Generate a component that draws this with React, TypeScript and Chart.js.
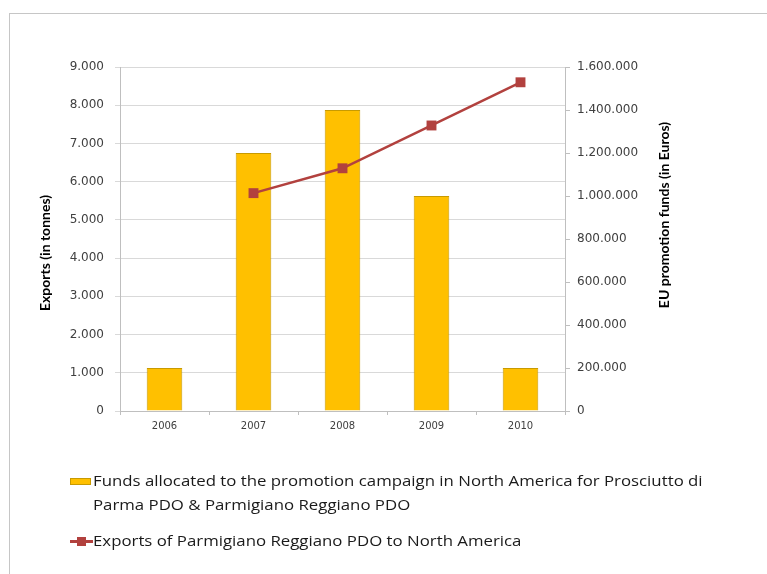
import React, { useEffect, useRef } from 'react';
import { Chart, registerables } from 'chart.js';

Chart.register(...registerables);

const years = ['2006', '2007', '2008', '2009', '2010'];
const fundsEuro = [200000, 1200000, 1400000, 1000000, 200000];
const exportsTonnes = [null, 5700, 6350, 7470, 8600];

const leftMax = 9000;
const leftStep = 1000;
const rightMax = 1600000;
const rightStep = 200000;

const leftTitle = 'Exports (in tonnes)';
const rightTitle = 'EU promotion funds (in Euros)';
const fundsLabel1 = 'Funds allocated to the promotion campaign in North America for Prosciutto di';
const fundsLabel2 = 'Parma PDO & Parmigiano Reggiano PDO';
const exportsLabel = 'Exports of Parmigiano Reggiano PDO to North America';

const BAR = '#FFC000';
const BAR_BORDER = '#C89A00';
const LINE = '#B2413E';
const AXIS = '#bfbfbf';
const GRID = '#d9d9d9';
const TICK = '#404040';

function fmt(v: number | string) {
  return String(v).replace(/\B(?=(\d{3})+(?!\d))/g, '.');
}

export default function App() {
  const ref = useRef<HTMLCanvasElement>(null);

  useEffect(() => {
    const titlePlugin = {
      id: 'axisTitles',
      afterDraw(chart: any) {
        const { ctx, chartArea } = chart;
        const mid = (chartArea.top + chartArea.bottom) / 2;
        ctx.save();
        ctx.fillStyle = '#000';
        ctx.font = 'bold 14px Lato';
        ctx.textAlign = 'center';
        ctx.textBaseline = 'middle';
        ctx.translate(chartArea.left - 75, mid + 14);
        ctx.rotate(-Math.PI / 2);
        ctx.fillText(leftTitle, 0, 0);
        ctx.restore();
        ctx.save();
        ctx.fillStyle = '#000';
        ctx.font = 'bold 14px Lato';
        ctx.textAlign = 'center';
        ctx.textBaseline = 'middle';
        ctx.translate(chartArea.right + 99, mid - 24);
        ctx.rotate(-Math.PI / 2);
        ctx.fillText(rightTitle, 0, 0);
        ctx.restore();
      },
    };

    const chart = new Chart(ref.current as HTMLCanvasElement, {
      type: 'bar',
      data: {
        labels: years,
        datasets: [
          {
            type: 'line',
            label: exportsLabel,
            data: exportsTonnes as any,
            yAxisID: 'y',
            borderColor: LINE,
            backgroundColor: LINE,
            borderWidth: 2.5,
            pointStyle: 'rect',
            pointRadius: 7,
            pointBackgroundColor: LINE,
            pointBorderColor: LINE,
            pointBorderWidth: 0,
            order: 0,
          } as any,
          {
            type: 'bar',
            label: fundsLabel1 + ' ' + fundsLabel2,
            data: fundsEuro,
            yAxisID: 'y1',
            backgroundColor: BAR,
            borderColor: BAR_BORDER,
            borderWidth: 1,
            barPercentage: 0.5,
            categoryPercentage: 0.8,
            order: 1,
          } as any,
        ],
      },
      options: {
        responsive: false,
        animation: false,
        layout: { padding: { top: 67, right: 102, left: 0, bottom: 0 } },
        plugins: { legend: { display: false }, tooltip: { enabled: false } },
        scales: {
          x: {
            grid: { drawOnChartArea: false, tickLength: 4, color: AXIS },
            border: { color: AXIS },
            ticks: { font: { family: 'DejaVu Sans', size: 10 }, color: TICK, padding: 5, maxRotation: 0 },
            afterFit(s: any) { s.height = 163; },
          },
          y: {
            position: 'left',
            min: 0,
            max: leftMax,
            ticks: { stepSize: leftStep, callback: (v: any) => fmt(v), font: { family: 'DejaVu Sans', size: 12 }, color: TICK, padding: 11 },
            grid: { color: GRID, tickLength: 5 },
            border: { color: AXIS },
            afterFit(s: any) { s.width = 120; },
          },
          y1: {
            position: 'right',
            min: 0,
            max: rightMax,
            ticks: { stepSize: rightStep, callback: (v: any) => fmt(v), font: { family: 'DejaVu Sans', size: 12 }, color: TICK, padding: 7 },
            grid: { drawOnChartArea: false, tickLength: 5, color: AXIS },
            border: { color: AXIS },
            afterFit(s: any) { s.width = 100; },
          },
        },
      } as any,
      plugins: [titlePlugin],
    });
    return () => chart.destroy();
  }, []);

  const textStyle: React.CSSProperties = {
    position: 'absolute',
    left: 93,
    fontFamily: '"Open Sans", sans-serif',
    fontSize: 14,
    color: '#1a1a1a',
    whiteSpace: 'nowrap',
    lineHeight: '18px',
    transform: 'scaleX(1.2)',
    transformOrigin: 'left center',
  };

  return (
    <div style={{ position: 'absolute', left: 0, top: 0, width: 767, height: 574, overflow: 'hidden', background: '#fff' }}>
      <div style={{ position: 'absolute', left: 9, top: 13, width: 758, height: 561, boxSizing: 'border-box', borderLeft: '1px solid #c6c6c6', borderTop: '1px solid #c6c6c6' }} />
      <canvas ref={ref} width={767} height={574} style={{ position: 'absolute', left: 0, top: 0, display: 'block' }} />
      <div style={{ position: 'absolute', left: 70, top: 478, width: 21, height: 7, background: BAR, boxSizing: 'border-box', border: '1px solid ' + BAR_BORDER }} />
      <div style={{ ...textStyle, top: 472 }}>{fundsLabel1}</div>
      <div style={{ ...textStyle, top: 496 }}>{fundsLabel2}</div>
      <div style={{ position: 'absolute', left: 70, top: 540, width: 23, height: 3, background: LINE }} />
      <div style={{ position: 'absolute', left: 77, top: 537, width: 9, height: 9, background: LINE }} />
      <div style={{ ...textStyle, top: 532 }}>{exportsLabel}</div>
    </div>
  );
}
